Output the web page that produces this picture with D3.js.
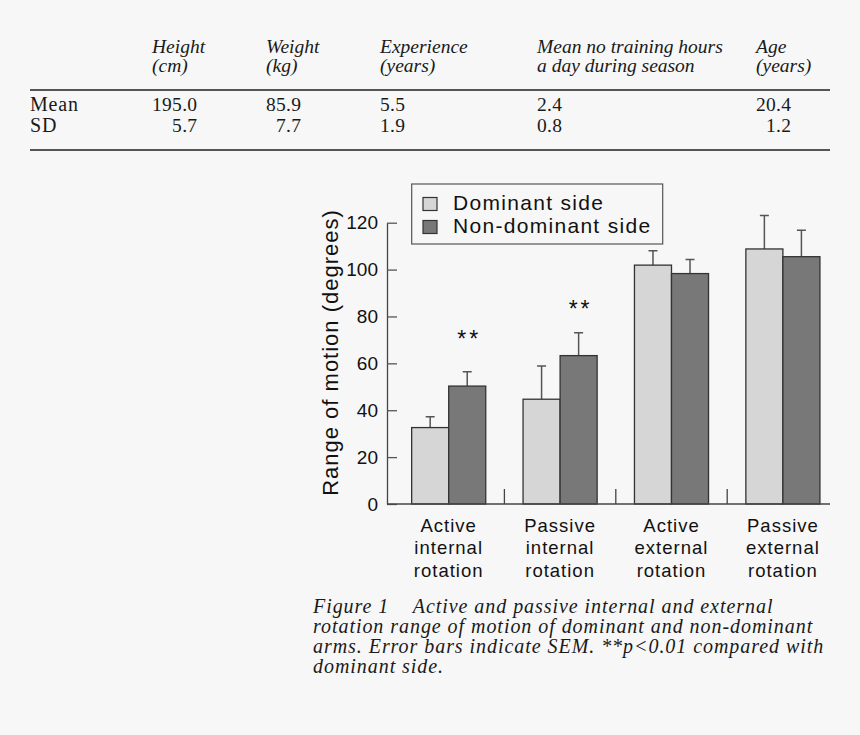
<!DOCTYPE html>
<html>
<head>
<meta charset="utf-8">
<script src="https://cdn.jsdelivr.net/npm/d3@7"></script>
<style>
  html, body { margin: 0; padding: 0; background: #f7f7f7; }
  svg { display: block; }
  .tbl text { font-family: "Liberation Serif", serif; fill: #1a1a1a; }
  .chart text { font-family: "Liberation Sans", Arial, sans-serif; fill: #111; }
  .caption text { font-family: "Liberation Serif", serif; font-style: italic; fill: #1a1a1a; white-space: pre; }
</style>
</head>
<body>
<div id="fig"></div>
<script>
// table values
const tableHeaders = [
  ['Height', '(cm)'],
  ['Weight', '(kg)'],
  ['Experience', '(years)'],
  ['Mean no training hours', 'a day during season'],
  ['Age', '(years)']
];
const tableRows = ['Mean', 'SD'];
const tableMean = ['195.0', '85.9', '5.5', '2.4', '20.4'];
const tableSd = ['5.7', '7.7', '1.9', '0.8', '1.2'];

// chart values
const categories = [
  ['Active', 'internal', 'rotation'],
  ['Passive', 'internal', 'rotation'],
  ['Active', 'external', 'rotation'],
  ['Passive', 'external', 'rotation']
];
const seriesNames = ['Dominant side', 'Non-dominant side'];
const dominant = [32.6, 44.7, 101.9, 108.8];
const nonDominant = [50.3, 63.3, 98.3, 105.5];
const dominantSem = [4.6, 14.2, 6.1, 14.3];
const nonDominantSem = [6.1, 9.8, 6.0, 11.3];
const starLevels = [71.7, 84.6, null, null];   // "**" marks over non-dominant bars
const yTicks = [0, 20, 40, 60, 80, 100, 120];

const captionLines = [
  'Figure 1    Active and passive internal and external',
  'rotation range of motion of dominant and non-dominant',
  'arms. Error bars indicate SEM. **p<0.01 compared with',
  'dominant side.'
];

const W = 860, H = 735;
const colors = ['#d6d6d6', '#787878'];

const svg = d3.select('#fig').append('svg')
  .attr('width', W)
  .attr('height', H);

/* ---- table ---- */
const colX = [152, 266, 380, 537, 756];
const tbl = svg.append('g').attr('class', 'tbl');

tbl.selectAll('.hdr')
  .data(tableHeaders)
  .enter()
  .append('text')
  .attr('class', 'hdr')
  .attr('x', (d, i) => colX[i])
  .style('font-style', 'italic')
  .style('font-size', '19.5px')
  .each(function(d) {
    d3.select(this).selectAll('tspan')
      .data(d)
      .enter()
      .append('tspan')
      .attr('x', d3.select(this).attr('x'))
      .attr('y', (t, j) => 53 + j * 19)
      .text((t) => t);
  });

tbl.selectAll('.rule')
  .data([90, 150])
  .enter()
  .append('line')
  .attr('x1', 30).attr('x2', 830)
  .attr('y1', (d) => d).attr('y2', (d) => d)
  .attr('stroke', '#555')
  .attr('stroke-width', 2);

tbl.selectAll('.rowlab')
  .data(tableRows)
  .enter()
  .append('text')
  .attr('x', 30)
  .attr('y', (d, i) => 111 + i * 21)
  .style('font-size', '20px')
  .style('letter-spacing', '0.8px')
  .text((d) => d);

const meanText = tbl.selectAll('.mean')
  .data(tableMean)
  .enter()
  .append('text')
  .attr('class', 'mean')
  .attr('x', (d, i) => colX[i])
  .attr('y', 111)
  .style('font-size', '19.5px')
  .style('letter-spacing', '0.3px')
  .text((d) => d);

// SD values are aligned on the decimal point with the mean row
const meanRight = meanText.nodes().map((n, i) => colX[i] + n.getComputedTextLength());
tbl.selectAll('.sd')
  .data(tableSd)
  .enter()
  .append('text')
  .attr('x', (d, i) => meanRight[i])
  .attr('y', 132)
  .attr('text-anchor', 'end')
  .style('font-size', '19.5px')
  .style('letter-spacing', '0.3px')
  .text((d) => d);

/* ---- bar chart ---- */
const chart = svg.append('g').attr('class', 'chart');

const y = d3.scaleLinear()
  .domain([0, 120])
  .range([504, 222.7]);

const x0 = d3.scaleBand()
  .domain(d3.range(categories.length))
  .range([393, 838.6])
  .paddingInner(0.335)
  .paddingOuter(0.1675);

const x1 = d3.scaleBand()
  .domain([0, 1])
  .range([0, x0.bandwidth()]);

const axisX = 387;

// y axis, ticks pointing inwards
const yAxis = d3.axisLeft(y)
  .tickValues(yTicks)
  .tickSize(-10)
  .tickSizeOuter(0)
  .tickPadding(9);

const gY = chart.append('g')
  .attr('transform', `translate(${axisX}, 0)`)
  .call(yAxis);
gY.select('.domain').attr('stroke', '#444').attr('stroke-width', 1.3);
gY.selectAll('.tick line').attr('stroke', '#555').attr('stroke-width', 1.3);
gY.selectAll('.tick text')
  .style('font-size', '19px')
  .style('font-family', '"Liberation Sans", Arial, sans-serif')
  .attr('fill', '#111');

chart.append('text')
  .attr('transform', 'translate(338, 352.5) rotate(-90)')
  .attr('text-anchor', 'middle')
  .style('font-size', '22px')
  .style('letter-spacing', '1px')
  .text('Range of motion (degrees)');

// bars
const groups = chart.selectAll('.group')
  .data(categories.map((c, i) => ({
    i: i,
    vals: [
      { s: 0, v: dominant[i], e: dominantSem[i] },
      { s: 1, v: nonDominant[i], e: nonDominantSem[i] }
    ]
  })))
  .enter()
  .append('g')
  .attr('class', 'group')
  .attr('transform', (d) => `translate(${x0(d.i)}, 0)`);

// error bars (upper only)
groups.selectAll('.err')
  .data((d) => d.vals)
  .enter()
  .append('path')
  .attr('class', 'err')
  .attr('d', (d) => {
    const cx = x1(d.s) + x1.bandwidth() / 2;
    return `M${cx},${y(d.v)}V${y(d.v + d.e)}M${cx - 4.5},${y(d.v + d.e)}H${cx + 4.5}`;
  })
  .attr('fill', 'none')
  .attr('stroke', '#555')
  .attr('stroke-width', 1.5);

groups.selectAll('.bar')
  .data((d) => d.vals)
  .enter()
  .append('rect')
  .attr('class', 'bar')
  .attr('x', (d) => x1(d.s))
  .attr('y', (d) => y(d.v))
  .attr('width', x1.bandwidth())
  .attr('height', (d) => y(0) - y(d.v))
  .attr('fill', (d) => colors[d.s])
  .attr('stroke', '#333')
  .attr('stroke-width', 1.3);

// significance marks
chart.selectAll('.star')
  .data(starLevels.map((v, i) => ({ v: v, i: i })).filter((d) => d.v !== null))
  .enter()
  .append('text')
  .attr('x', (d) => x0(d.i) + x1(1) + x1.bandwidth() / 2 + 2)
  .attr('y', (d) => y(d.v) + 11)
  .attr('text-anchor', 'middle')
  .style('font-size', '23px')
  .style('letter-spacing', '3px')
  .text('**');

// x baseline with group separators
chart.append('line')
  .attr('x1', axisX).attr('x2', 830)
  .attr('y1', y(0)).attr('y2', y(0))
  .attr('stroke', '#444')
  .attr('stroke-width', 1.5);

chart.selectAll('.sep')
  .data(d3.range(1, categories.length))
  .enter()
  .append('line')
  .attr('x1', (d) => x0.range()[0] + x0.step() * d)
  .attr('x2', (d) => x0.range()[0] + x0.step() * d)
  .attr('y1', y(0))
  .attr('y2', y(0) - 15)
  .attr('stroke', '#444')
  .attr('stroke-width', 1.3);

// category labels
chart.selectAll('.cat')
  .data(categories)
  .enter()
  .append('text')
  .attr('class', 'cat')
  .attr('text-anchor', 'middle')
  .style('font-size', '18.5px')
  .style('letter-spacing', '1px')
  .each(function(d, i) {
    const cx = x0(i) + x0.bandwidth() / 2;
    d3.select(this).selectAll('tspan')
      .data(d)
      .enter()
      .append('tspan')
      .attr('x', cx)
      .attr('y', (t, j) => 531.7 + j * 22.5)
      .text((t) => t);
  });

// legend
const legend = chart.append('g');
legend.append('rect')
  .attr('x', 411.7).attr('y', 184)
  .attr('width', 251).attr('height', 60)
  .attr('fill', 'none')
  .attr('stroke', '#555')
  .attr('stroke-width', 1.2);

const items = legend.selectAll('.item')
  .data(seriesNames)
  .enter()
  .append('g')
  .attr('transform', (d, i) => `translate(423, ${197.5 + i * 23})`);
items.append('rect')
  .attr('width', 14).attr('height', 13)
  .attr('fill', (d, i) => colors[i])
  .attr('stroke', '#333')
  .attr('stroke-width', 1.2);
items.append('text')
  .attr('x', 30)
  .attr('y', 12)
  .style('font-size', '21px')
  .style('letter-spacing', '1.3px')
  .text((d) => d);

/* ---- caption ---- */
svg.append('g')
  .attr('class', 'caption')
  .selectAll('text')
  .data(captionLines)
  .enter()
  .append('text')
  .attr('x', 313)
  .attr('y', (d, i) => 612.7 + i * 20.2)
  .style('font-size', '20px')
  .style('letter-spacing', '0.95px')
  .text((d) => d);
</script>
</body>
</html>
